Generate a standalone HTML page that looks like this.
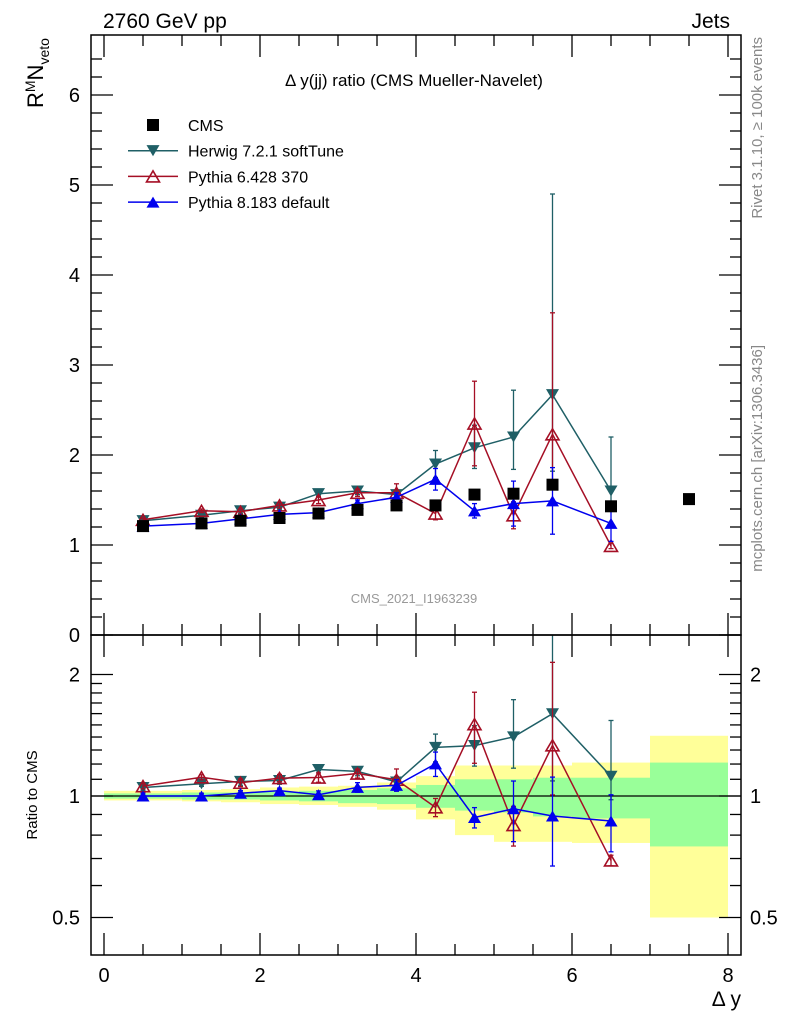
<!DOCTYPE html>
<html><head><meta charset="utf-8"><style>
body{margin:0;background:#fff;}
svg{display:block;font-family:"Liberation Sans",sans-serif;}
</style></head><body>
<svg id="c" width="786" height="1024" viewBox="0 0 786 1024"></svg>
<script>
const xCenters=[0.5,1.25,1.75,2.25,2.75,3.25,3.75,4.25,4.75,5.25,5.75,6.5,7.5];
const binEdges=[0,1,1.5,2,2.5,3,3.5,4,4.5,5,5.5,6,7,8];
const cmsVals=[1.21,1.24,1.27,1.30,1.35,1.39,1.44,1.44,1.56,1.57,1.67,1.43,1.51];
const herwigVals=[1.27,1.33,1.38,1.42,1.57,1.60,1.56,1.90,2.08,2.20,2.67,1.60];
const herwigErrUp=[0.02,0.02,0.03,0.03,0.03,0.04,0.05,0.15,0.25,0.52,2.23,0.60];
const herwigErrDown=[0.02,0.02,0.03,0.03,0.03,0.04,0.05,0.15,0.23,0.36,0.85,0.20];
const py6Vals=[1.28,1.38,1.37,1.44,1.50,1.58,1.58,1.35,2.35,1.33,2.23,0.99];
const py6ErrUp=[0.02,0.02,0.03,0.03,0.04,0.04,0.10,0.07,0.47,0.15,1.35,0.03];
const py6ErrDown=[0.02,0.02,0.03,0.03,0.04,0.04,0.10,0.07,0.47,0.15,0.55,0.03];
const py8Vals=[1.21,1.24,1.29,1.34,1.36,1.46,1.53,1.73,1.38,1.46,1.49,1.24];
const py8Err=[0.02,0.02,0.02,0.02,0.03,0.04,0.05,0.12,0.08,0.25,0.37,0.20];
const bandYellowHi=[1.03,1.035,1.04,1.05,1.055,1.06,1.08,1.12,1.19,1.19,1.19,1.21,1.41];
const bandYellowLo=[0.975,0.97,0.965,0.955,0.95,0.94,0.925,0.875,0.8,0.77,0.77,0.765,0.5];
const bandGreenHi=[1.015,1.02,1.02,1.025,1.03,1.035,1.045,1.065,1.1,1.1,1.11,1.11,1.21];
const bandGreenLo=[0.985,0.98,0.98,0.975,0.97,0.96,0.955,0.935,0.92,0.91,0.89,0.88,0.75];
const xTicks=[0,2,4,6,8];
const mainYTicks=[0,1,2,3,4,5,6];
const ratioYTicks=[0.5,1,2];

const NS="http://www.w3.org/2000/svg";
const svg=document.getElementById('c');
function mk(tag,attrs,parent){const e=document.createElementNS(NS,tag);for(const k in attrs)e.setAttribute(k,attrs[k]);(parent||svg).appendChild(e);return e;}
const L=91,R=741,T=35,M=635,B=955;
const X=v=>104+78*v;
const Y=v=>635-90*v;
const YR=v=>796-121.5*Math.log2(v);

const defs=mk('defs',{});
const c1=mk('clipPath',{id:'cm'},defs);mk('rect',{x:L,y:T,width:R-L,height:M-T},c1);
const c2=mk('clipPath',{id:'cr'},defs);mk('rect',{x:L,y:M,width:R-L,height:B-M},c2);

const gr=mk('g',{'clip-path':'url(#cr)'});


for(let i=0;i<xCenters.length;i++){
  const x0=X(binEdges[i]),x1=X(binEdges[i+1]);
  const r=mk('rect',{x:x0,y:YR(bandYellowHi[i]),width:x1-x0,height:YR(bandYellowLo[i])-YR(bandYellowHi[i]),fill:'#ffff99'},gr);
  
  
}
for(let i=0;i<xCenters.length;i++){
  const x0=X(binEdges[i]),x1=X(binEdges[i+1]);
  const r=mk('rect',{x:x0,y:YR(bandGreenHi[i]),width:x1-x0,height:YR(bandGreenLo[i])-YR(bandGreenHi[i]),fill:'#99ff99'},gr);
  
  
}
mk('line',{x1:L,x2:R,y1:YR(1),y2:YR(1),stroke:'#000','stroke-width':1.3},gr);

const gm=mk('g',{'clip-path':'url(#cm)'});



function marker(g,type,x,y,col,s){
  let e;
  if(type==='down') e=mk('path',{d:`M${x-s},${y-s*0.85}L${x+s},${y-s*0.85}L${x},${y+s*0.85}Z`,fill:col},g);
  else if(type==='up') e=mk('path',{d:`M${x-s},${y+s*0.85}L${x+s},${y+s*0.85}L${x},${y-s*0.85}Z`,fill:col},g);
  else if(type==='upo') e=mk('path',{d:`M${x-s},${y+s*0.85}L${x+s},${y+s*0.85}L${x},${y-s*0.85}Z`,fill:'none',stroke:col,'stroke-width':1.6},g);
  else e=mk('rect',{x:x-6,y:y-6,width:12,height:12,fill:col},g);
  return e;
}
function series(g,name,vals,errUp,errDn,col,type,ymap,div){
  const pts=vals.map((v,i)=>[X(xCenters[i]),ymap(div?v/div[i]:v)]);
  const pl=mk('polyline',{points:pts.map(p=>p.join(',')).join(' '),fill:'none',stroke:col,'stroke-width':1.5},g);
  
  
  vals.forEach((v,i)=>{
    const d=div?div[i]:1;
    const x=pts[i][0];
    const y1=ymap((v+errUp[i])/d), y2=ymap(Math.max(v-errDn[i],0.01)/d);
    mk('line',{x1:x,x2:x,y1:y1,y2:y2,stroke:col,'stroke-width':1.3},g);
    mk('line',{x1:x-2.5,x2:x+2.5,y1:y1,y2:y1,stroke:col,'stroke-width':1.3},g);
    mk('line',{x1:x-2.5,x2:x+2.5,y1:y2,y2:y2,stroke:col,'stroke-width':1.3},g);
    const m=marker(g,type,x,pts[i][1],col,6.5);
    
    
  });
}
const HC='#1f5f66',P6='#a50f25',P8='#0000ee';
series(gm,'herwig',herwigVals,herwigErrUp,herwigErrDown,HC,'down',Y);
series(gm,'pythia6',py6Vals,py6ErrUp,py6ErrDown,P6,'upo',Y);
series(gm,'pythia8',py8Vals,py8Err,py8Err,P8,'up',Y);
cmsVals.forEach((v,i)=>{
  const m=marker(gm,'sq',X(xCenters[i]),Y(v),'#000');
  
  
});
series(gr,'herwig-ratio',herwigVals,herwigErrUp,herwigErrDown,HC,'down',YR,cmsVals);
series(gr,'pythia6-ratio',py6Vals,py6ErrUp,py6ErrDown,P6,'upo',YR,cmsVals);
series(gr,'pythia8-ratio',py8Vals,py8Err,py8Err,P8,'up',YR,cmsVals);

mk('rect',{x:L,y:T,width:R-L,height:M-T,fill:'none',stroke:'#000','stroke-width':1.5});
mk('rect',{x:L,y:M,width:R-L,height:B-M,fill:'none',stroke:'#000','stroke-width':1.5});

function txt(s,x,y,attrs,name){const t=mk('text',Object.assign({x:x,y:y},attrs));t.textContent=s;return t;}
for(let v=0;v<=6.6;v+=0.2){
  const y=Y(v),maj=Math.abs(v-Math.round(v))<1e-6,len=maj?22:11;
  mk('line',{x1:L,x2:L+len,y1:y,y2:y,stroke:'#000','stroke-width':1.3});
  mk('line',{x1:R,x2:R-len,y1:y,y2:y,stroke:'#000','stroke-width':1.3});
}
mainYTicks.forEach(v=>txt(String(v),80,Y(v)+7,{'font-size':20,'text-anchor':'end'},'main-y-tick-label'));
const minors=[0.5,0.6,0.7,0.8,0.9,1,1.1,1.2,1.3,1.4,1.5,1.6,1.7,1.8,1.9,2];
minors.forEach(v=>{const y=YR(v),maj=ratioYTicks.includes(v),len=maj?22:11;
  mk('line',{x1:L,x2:L+len,y1:y,y2:y,stroke:'#000','stroke-width':1.3});
  mk('line',{x1:R,x2:R-len,y1:y,y2:y,stroke:'#000','stroke-width':1.3});});
ratioYTicks.forEach(v=>{
  txt(String(v),80,YR(v)+7,{'font-size':20,'text-anchor':'end'},'ratio-y-tick-label-left');
  txt(String(v),750,YR(v)+7,{'font-size':20},'ratio-y-tick-label-right');
});
for(let v=0;v<=8.001;v+=0.5){
  const x=X(v),maj=Math.abs(v/2-Math.round(v/2))<1e-6,len=maj?22:11;
  mk('line',{x1:x,x2:x,y1:B,y2:B-len,stroke:'#000','stroke-width':1.3});
  mk('line',{x1:x,x2:x,y1:M,y2:M+len,stroke:'#000','stroke-width':1.3});
  mk('line',{x1:x,x2:x,y1:M,y2:M-len,stroke:'#000','stroke-width':1.3});
  mk('line',{x1:x,x2:x,y1:T,y2:T+len,stroke:'#000','stroke-width':1.3});
}
xTicks.forEach(v=>txt(String(v),X(v),982,{'font-size':20,'text-anchor':'middle'},'x-tick-label'));
txt('Δ y',741,1006,{'font-size':21,'text-anchor':'end'},'x-axis-title');

txt('2760 GeV pp',103,28,{'font-size':21},'energy-label');
txt('Jets',730,28,{'font-size':21,'text-anchor':'end'},'process-label');
txt('Δ y(jj) ratio (CMS Mueller-Navelet)',414,86,{'font-size':17,'text-anchor':'middle'},'plot-title');
txt('CMS_2021_I1963239',414,603,{'font-size':13,'text-anchor':'middle',fill:'#999'},'analysis-id');
const yl=mk('text',{transform:'translate(43,108) rotate(-90)','font-size':22});

yl.innerHTML='R<tspan dy="-8" font-size="14">M</tspan><tspan dy="8">N</tspan><tspan dy="6" font-size="14">veto</tspan>';
txt('Ratio to CMS',0,0,{'font-size':15,'text-anchor':'middle',transform:'translate(37,795) rotate(-90)'},'ratio-y-axis-title');
txt('Rivet 3.1.10, ≥ 100k events',0,0,{'font-size':15,'fill':'#888','text-anchor':'end',transform:'translate(762,37) rotate(-90)'},'rivet-label');
txt('mcplots.cern.ch [arXiv:1306.3436]',0,0,{'font-size':15,'fill':'#888','text-anchor':'end',transform:'translate(762,345) rotate(-90)'},'mcplots-label');

const lg=mk('g',{});

const ents=[['CMS','#000','sq'],['Herwig 7.2.1 softTune',HC,'down'],['Pythia 6.428 370',P6,'upo'],['Pythia 8.183 default',P8,'up']];
ents.forEach((e,i)=>{
  const y=125+25.7*i;
  const g=mk('g',{},lg);
  
  if(e[2]!=='sq') mk('line',{x1:128,x2:178,y1:y,y2:y,stroke:e[1],'stroke-width':1.5},g);
  marker(g,e[2],153,y,e[1],6.5);
  const t=mk('text',{x:188,y:y+6,'font-size':16},g);t.textContent=e[0];
});
</script>
</body></html>
